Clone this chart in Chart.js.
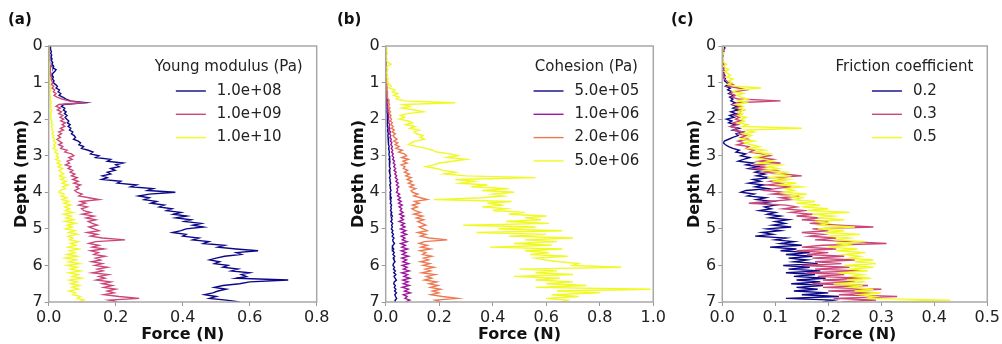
<!DOCTYPE html>
<html>
<head>
<meta charset="utf-8">
<script src="https://cdn.jsdelivr.net/npm/chart.js@4/dist/chart.umd.min.js"></script>
<style>
	body { margin: 0; background: #fff; width: 1002px; height: 344px; overflow: hidden; }
	.panel { position: absolute; top: 0; width: 334px; height: 344px; }
	.tag { position: absolute; top: 10px; font: bold 15px 'DejaVu Sans'; line-height: 18px; color: #111; }
</style>
</head>
<body>
<div class="panel" style="left:0px"><canvas id="chartA" width="334" height="344"></canvas></div>
<div class="panel" style="left:334px"><canvas id="chartB" width="334" height="344"></canvas></div>
<div class="panel" style="left:668px"><canvas id="chartC" width="334" height="344"></canvas></div>
<div class="tag" style="left:8px">(a)</div>
<div class="tag" style="left:337px">(b)</div>
<div class="tag" style="left:671px">(c)</div>
<script>
//	Depth (mm), shared by every curve
var depth = [
	0, 0.05, 0.1, 0.15, 0.2, 0.25, 0.3, 0.35, 0.4, 0.45,
	0.5, 0.55, 0.6, 0.65, 0.7, 0.75, 0.8, 0.85, 0.9, 0.95,
	1, 1.05, 1.1, 1.15, 1.2, 1.25, 1.3, 1.35, 1.4, 1.45,
	1.5, 1.55, 1.6, 1.65, 1.7, 1.75, 1.8, 1.85, 1.9, 1.95,
	2, 2.05, 2.1, 2.15, 2.2, 2.25, 2.3, 2.35, 2.4, 2.45,
	2.5, 2.55, 2.6, 2.65, 2.7, 2.75, 2.8, 2.85, 2.9, 2.95,
	3, 3.05, 3.1, 3.15, 3.2, 3.25, 3.3, 3.35, 3.4, 3.45,
	3.5, 3.55, 3.6, 3.65, 3.7, 3.75, 3.8, 3.85, 3.9, 3.95,
	4, 4.05, 4.1, 4.15, 4.2, 4.25, 4.3, 4.35, 4.4, 4.45,
	4.5, 4.55, 4.6, 4.65, 4.7, 4.75, 4.8, 4.85, 4.9, 4.95,
	5, 5.05, 5.1, 5.15, 5.2, 5.25, 5.3, 5.35, 5.4, 5.45,
	5.5, 5.55, 5.6, 5.65, 5.7, 5.75, 5.8, 5.85, 5.9, 5.95,
	6, 6.05, 6.1, 6.15, 6.2, 6.25, 6.3, 6.35, 6.4, 6.45,
	6.5, 6.55, 6.6, 6.65, 6.7, 6.75, 6.8, 6.85, 6.9, 6.95,
	7
];

//	(a) Young modulus
var youngLabels = ['1.0e+08', '1.0e+09', '1.0e+10'];
var young1e8 = [
	0.004, 0.006, 0.005, 0.008, 0.006, 0.009, 0.007, 0.010, 0.008, 0.012,
	0.010, 0.015, 0.013, 0.022, 0.018, 0.012, 0.010, 0.014, 0.011, 0.016,
	0.013, 0.020, 0.026, 0.022, 0.032, 0.028, 0.036, 0.031, 0.042, 0.052,
	0.065, 0.110, 0.045, 0.038, 0.048, 0.044, 0.052, 0.047, 0.055, 0.049,
	0.054, 0.060, 0.056, 0.064, 0.058, 0.066, 0.062, 0.072, 0.068, 0.076,
	0.080, 0.074, 0.088, 0.095, 0.090, 0.104, 0.098, 0.118, 0.132, 0.125,
	0.150, 0.140, 0.185, 0.175, 0.222, 0.200, 0.210, 0.185, 0.198, 0.175,
	0.185, 0.160, 0.175, 0.158, 0.215, 0.205, 0.262, 0.245, 0.312, 0.295,
	0.378, 0.300, 0.268, 0.300, 0.285, 0.322, 0.305, 0.345, 0.330, 0.368,
	0.352, 0.395, 0.372, 0.412, 0.380, 0.425, 0.405, 0.455, 0.430, 0.462,
	0.410, 0.395, 0.370, 0.410, 0.400, 0.448, 0.430, 0.478, 0.462, 0.525,
	0.505, 0.560, 0.625, 0.560, 0.575, 0.525, 0.500, 0.480, 0.510, 0.495,
	0.535, 0.520, 0.565, 0.545, 0.600, 0.575, 0.590, 0.560, 0.715, 0.600,
	0.570, 0.520, 0.495, 0.530, 0.505, 0.490, 0.465, 0.500, 0.480, 0.530,
	0.570
];
var young1e9 = [
	0.000, 0.002, 0.001, 0.003, 0.001, 0.002, 0.001, 0.003, 0.002, 0.004,
	0.003, 0.005, 0.004, 0.006, 0.004, 0.007, 0.005, 0.008, 0.006, 0.009,
	0.012, 0.008, 0.015, 0.010, 0.018, 0.014, 0.022, 0.016, 0.025, 0.040,
	0.060, 0.100, 0.030, 0.022, 0.035, 0.026, 0.038, 0.030, 0.042, 0.034,
	0.045, 0.036, 0.050, 0.040, 0.048, 0.035, 0.044, 0.030, 0.038, 0.028,
	0.035, 0.025, 0.032, 0.040, 0.030, 0.042, 0.036, 0.055, 0.048, 0.068,
	0.075, 0.060, 0.070, 0.055, 0.062, 0.050, 0.066, 0.058, 0.072, 0.064,
	0.078, 0.068, 0.085, 0.072, 0.088, 0.075, 0.095, 0.082, 0.090, 0.078,
	0.085, 0.100, 0.090, 0.120, 0.150, 0.095, 0.110, 0.090, 0.115, 0.098,
	0.105, 0.125, 0.100, 0.135, 0.112, 0.140, 0.118, 0.130, 0.145, 0.120,
	0.135, 0.150, 0.115, 0.145, 0.125, 0.160, 0.228, 0.140, 0.120, 0.150,
	0.130, 0.165, 0.125, 0.148, 0.135, 0.168, 0.140, 0.155, 0.128, 0.160,
	0.138, 0.175, 0.145, 0.162, 0.130, 0.178, 0.150, 0.168, 0.142, 0.185,
	0.160, 0.190, 0.165, 0.200, 0.175, 0.195, 0.165, 0.210, 0.270, 0.180,
	0.205
];
var young1e10 = [
	0.000, 0.000, 0.001, 0.000, 0.001, 0.000, 0.001, 0.001, 0.000, 0.002,
	0.001, 0.002, 0.001, 0.003, 0.002, 0.001, 0.003, 0.002, 0.004, 0.002,
	0.004, 0.002, 0.005, 0.003, 0.006, 0.004, 0.003, 0.005, 0.004, 0.006,
	0.005, 0.008, 0.004, 0.007, 0.005, 0.009, 0.006, 0.008, 0.005, 0.007,
	0.006, 0.010, 0.007, 0.012, 0.008, 0.011, 0.009, 0.014, 0.010, 0.016,
	0.012, 0.018, 0.014, 0.022, 0.015, 0.020, 0.013, 0.024, 0.018, 0.028,
	0.022, 0.030, 0.020, 0.034, 0.025, 0.038, 0.028, 0.042, 0.030, 0.036,
	0.045, 0.032, 0.048, 0.036, 0.052, 0.040, 0.058, 0.042, 0.050, 0.035,
	0.030, 0.046, 0.038, 0.055, 0.040, 0.060, 0.045, 0.066, 0.048, 0.062,
	0.050, 0.072, 0.045, 0.068, 0.052, 0.075, 0.048, 0.080, 0.055, 0.070,
	0.050, 0.078, 0.060, 0.085, 0.058, 0.072, 0.062, 0.088, 0.065, 0.080,
	0.058, 0.090, 0.062, 0.078, 0.055, 0.085, 0.050, 0.082, 0.060, 0.092,
	0.055, 0.085, 0.065, 0.095, 0.060, 0.088, 0.070, 0.098, 0.062, 0.085,
	0.066, 0.092, 0.070, 0.088, 0.060, 0.080, 0.072, 0.095, 0.085, 0.105,
	0.090
];

//	(b) Cohesion
var cohesionLabels = ['5.0e+05', '1.0e+06', '2.0e+06', '5.0e+06'];
var cohesion5e5 = [
	0.000, 0.000, 0.000, 0.001, 0.000, 0.000, 0.001, 0.000, 0.000, 0.001,
	0.000, 0.001, 0.000, 0.001, 0.000, 0.001, 0.000, 0.001, 0.001, 0.000,
	0.001, 0.002, 0.001, 0.002, 0.001, 0.003, 0.002, 0.003, 0.002, 0.004,
	0.003, 0.004, 0.003, 0.005, 0.004, 0.005, 0.004, 0.006, 0.005, 0.006,
	0.005, 0.007, 0.006, 0.008, 0.006, 0.009, 0.007, 0.008, 0.010, 0.008,
	0.009, 0.011, 0.009, 0.012, 0.010, 0.013, 0.011, 0.012, 0.014, 0.012,
	0.013, 0.015, 0.012, 0.016, 0.013, 0.015, 0.014, 0.017, 0.013, 0.016,
	0.015, 0.018, 0.014, 0.017, 0.016, 0.019, 0.015, 0.018, 0.017, 0.020,
	0.016, 0.019, 0.017, 0.021, 0.018, 0.020, 0.017, 0.022, 0.019, 0.021,
	0.018, 0.023, 0.020, 0.025, 0.021, 0.024, 0.019, 0.026, 0.022, 0.025,
	0.021, 0.027, 0.023, 0.029, 0.024, 0.031, 0.026, 0.028, 0.033, 0.027,
	0.025, 0.030, 0.026, 0.032, 0.027, 0.034, 0.028, 0.031, 0.035, 0.029,
	0.027, 0.033, 0.029, 0.036, 0.030, 0.038, 0.031, 0.035, 0.040, 0.032,
	0.030, 0.036, 0.032, 0.038, 0.033, 0.040, 0.034, 0.037, 0.041, 0.035,
	0.036
];
var cohesion1e6 = [
	0.000, 0.000, 0.001, 0.000, 0.000, 0.001, 0.000, 0.000, 0.001, 0.000,
	0.001, 0.000, 0.001, 0.001, 0.000, 0.001, 0.002, 0.001, 0.002, 0.001,
	0.002, 0.003, 0.002, 0.004, 0.003, 0.005, 0.003, 0.006, 0.004, 0.006,
	0.005, 0.007, 0.006, 0.009, 0.007, 0.010, 0.008, 0.011, 0.009, 0.012,
	0.010, 0.013, 0.011, 0.015, 0.012, 0.016, 0.013, 0.018, 0.014, 0.019,
	0.016, 0.021, 0.018, 0.023, 0.019, 0.025, 0.021, 0.026, 0.022, 0.028,
	0.024, 0.030, 0.026, 0.033, 0.028, 0.035, 0.030, 0.037, 0.031, 0.039,
	0.034, 0.041, 0.036, 0.044, 0.038, 0.047, 0.040, 0.049, 0.042, 0.045,
	0.040, 0.052, 0.044, 0.055, 0.046, 0.058, 0.048, 0.062, 0.050, 0.060,
	0.054, 0.065, 0.052, 0.068, 0.056, 0.066, 0.050, 0.070, 0.058, 0.072,
	0.055, 0.075, 0.060, 0.078, 0.058, 0.072, 0.062, 0.080, 0.056, 0.074,
	0.060, 0.082, 0.058, 0.076, 0.062, 0.085, 0.060, 0.078, 0.064, 0.086,
	0.062, 0.080, 0.066, 0.088, 0.060, 0.082, 0.068, 0.090, 0.064, 0.084,
	0.066, 0.088, 0.062, 0.085, 0.070, 0.092, 0.066, 0.080, 0.072, 0.090,
	0.075
];
var cohesion2e6 = [
	0.000, 0.000, 0.000, 0.001, 0.000, 0.001, 0.000, 0.001, 0.001, 0.000,
	0.001, 0.002, 0.001, 0.002, 0.001, 0.003, 0.002, 0.003, 0.002, 0.004,
	0.003, 0.005, 0.004, 0.006, 0.004, 0.007, 0.005, 0.008, 0.006, 0.009,
	0.012, 0.008, 0.014, 0.010, 0.016, 0.012, 0.018, 0.013, 0.020, 0.015,
	0.022, 0.017, 0.025, 0.019, 0.028, 0.022, 0.032, 0.024, 0.036, 0.027,
	0.033, 0.042, 0.030, 0.045, 0.035, 0.050, 0.038, 0.062, 0.048, 0.070,
	0.078, 0.060, 0.085, 0.065, 0.080, 0.058, 0.072, 0.066, 0.082, 0.070,
	0.088, 0.075, 0.095, 0.080, 0.098, 0.085, 0.105, 0.090, 0.112, 0.095,
	0.100, 0.120, 0.105, 0.130, 0.155, 0.108, 0.125, 0.100, 0.118, 0.098,
	0.110, 0.130, 0.105, 0.138, 0.115, 0.142, 0.120, 0.135, 0.150, 0.125,
	0.140, 0.155, 0.120, 0.150, 0.130, 0.162, 0.230, 0.145, 0.125, 0.155,
	0.132, 0.168, 0.128, 0.150, 0.138, 0.172, 0.142, 0.160, 0.130, 0.165,
	0.140, 0.180, 0.148, 0.168, 0.135, 0.185, 0.152, 0.172, 0.145, 0.190,
	0.162, 0.195, 0.168, 0.205, 0.175, 0.198, 0.168, 0.212, 0.268, 0.185,
	0.205
];
var cohesion5e6 = [
	0.005, 0.002, 0.004, 0.001, 0.006, 0.003, 0.002, 0.005, 0.003, 0.008,
	0.020, 0.006, 0.004, 0.008, 0.005, 0.003, 0.007, 0.004, 0.009, 0.006,
	0.008, 0.014, 0.020, 0.012, 0.035, 0.025, 0.045, 0.030, 0.050, 0.040,
	0.070, 0.260, 0.065, 0.090, 0.060, 0.110, 0.140, 0.080, 0.055, 0.070,
	0.050, 0.085, 0.100, 0.075, 0.110, 0.090, 0.125, 0.105, 0.115, 0.140,
	0.130, 0.145, 0.110, 0.095, 0.085, 0.120, 0.150, 0.175, 0.190, 0.240,
	0.270, 0.230, 0.300, 0.250, 0.200, 0.180, 0.150, 0.190, 0.215, 0.260,
	0.220, 0.300, 0.560, 0.260, 0.330, 0.280, 0.380, 0.320, 0.460, 0.360,
	0.480, 0.400, 0.440, 0.360, 0.180, 0.470, 0.380, 0.440, 0.360, 0.450,
	0.400, 0.520, 0.460, 0.600, 0.520, 0.580, 0.450, 0.610, 0.290, 0.560,
	0.420, 0.660, 0.340, 0.600, 0.460, 0.700, 0.520, 0.640, 0.480, 0.620,
	0.390, 0.660, 0.520, 0.610, 0.540, 0.680, 0.560, 0.600, 0.650, 0.720,
	0.700, 0.880, 0.500, 0.640, 0.560, 0.700, 0.480, 0.650, 0.560, 0.700,
	0.600, 0.750, 0.560, 0.990, 0.640, 0.800, 0.620, 0.720, 0.600, 0.680,
	0.660
];

//	(c) Friction coefficient
var frictionLabels = ['0.2', '0.3', '0.5'];
var friction02 = [
	0.002, 0.005, 0.001, 0.003, 0.001, 0.002, 0.000, 0.001, 0.000, 0.002,
	0.001, 0.003, 0.001, 0.002, 0.004, 0.002, 0.005, 0.003, 0.006, 0.004,
	0.008, 0.012, 0.006, 0.015, 0.010, 0.018, 0.012, 0.022, 0.014, 0.020,
	0.016, 0.024, 0.018, 0.028, 0.020, 0.030, 0.016, 0.026, 0.014, 0.022,
	0.008, 0.018, 0.012, 0.024, 0.016, 0.032, 0.020, 0.038, 0.026, 0.030,
	0.020, 0.012, 0.004, 0.002, 0.006, 0.012, 0.020, 0.032, 0.026, 0.044,
	0.035, 0.052, 0.040, 0.030, 0.058, 0.045, 0.068, 0.050, 0.075, 0.062,
	0.080, 0.065, 0.090, 0.058, 0.072, 0.050, 0.078, 0.062, 0.085, 0.045,
	0.035, 0.060, 0.048, 0.082, 0.065, 0.095, 0.072, 0.100, 0.080, 0.092,
	0.070, 0.100, 0.085, 0.110, 0.090, 0.125, 0.100, 0.118, 0.095, 0.130,
	0.085, 0.110, 0.075, 0.095, 0.062, 0.120, 0.100, 0.135, 0.110, 0.150,
	0.090, 0.140, 0.110, 0.165, 0.120, 0.170, 0.125, 0.160, 0.135, 0.180,
	0.115, 0.165, 0.125, 0.185, 0.120, 0.175, 0.135, 0.195, 0.140, 0.185,
	0.130, 0.190, 0.140, 0.180, 0.135, 0.200, 0.150, 0.220, 0.120, 0.210,
	0.190
];
var friction03 = [
	0.003, 0.000, 0.004, 0.001, 0.002, 0.000, 0.001, 0.000, 0.002, 0.001,
	0.003, 0.001, 0.004, 0.002, 0.006, 0.003, 0.002, 0.005, 0.003, 0.008,
	0.012, 0.020, 0.010, 0.030, 0.045, 0.022, 0.015, 0.025, 0.018, 0.030,
	0.110, 0.028, 0.020, 0.035, 0.025, 0.040, 0.030, 0.036, 0.022, 0.032,
	0.025, 0.035, 0.020, 0.030, 0.015, 0.028, 0.022, 0.040, 0.030, 0.045,
	0.035, 0.048, 0.030, 0.042, 0.028, 0.050, 0.045, 0.060, 0.052, 0.075,
	0.090, 0.068, 0.095, 0.070, 0.110, 0.065, 0.085, 0.060, 0.100, 0.078,
	0.115, 0.150, 0.095, 0.120, 0.090, 0.110, 0.085, 0.130, 0.100, 0.080,
	0.120, 0.095, 0.145, 0.110, 0.130, 0.085, 0.050, 0.120, 0.140, 0.115,
	0.155, 0.130, 0.170, 0.140, 0.185, 0.150, 0.200, 0.165, 0.220, 0.285,
	0.170, 0.200, 0.150, 0.190, 0.165, 0.215, 0.175, 0.240, 0.310, 0.190,
	0.150, 0.215, 0.140, 0.200, 0.160, 0.230, 0.170, 0.250, 0.175, 0.225,
	0.150, 0.240, 0.175, 0.260, 0.160, 0.230, 0.180, 0.265, 0.190, 0.250,
	0.170, 0.275, 0.190, 0.300, 0.200, 0.285, 0.220, 0.330, 0.210, 0.290,
	0.225
];
var friction05 = [
	0.000, 0.002, 0.001, 0.000, 0.003, 0.001, 0.000, 0.002, 0.001, 0.003,
	0.008, 0.002, 0.006, 0.012, 0.004, 0.010, 0.015, 0.008, 0.020, 0.012,
	0.018, 0.010, 0.025, 0.073, 0.030, 0.020, 0.040, 0.028, 0.035, 0.048,
	0.030, 0.045, 0.025, 0.040, 0.032, 0.042, 0.028, 0.038, 0.030, 0.045,
	0.035, 0.042, 0.030, 0.048, 0.038, 0.150, 0.045, 0.060, 0.040, 0.055,
	0.048, 0.035, 0.060, 0.042, 0.055, 0.070, 0.050, 0.080, 0.062, 0.090,
	0.075, 0.060, 0.080, 0.095, 0.070, 0.110, 0.085, 0.105, 0.080, 0.120,
	0.100, 0.130, 0.085, 0.125, 0.095, 0.140, 0.110, 0.150, 0.120, 0.135,
	0.115, 0.160, 0.125, 0.150, 0.135, 0.175, 0.140, 0.185, 0.150, 0.200,
	0.160, 0.240, 0.170, 0.210, 0.180, 0.230, 0.175, 0.200, 0.185, 0.250,
	0.180, 0.230, 0.195, 0.260, 0.200, 0.240, 0.210, 0.270, 0.215, 0.245,
	0.200, 0.255, 0.215, 0.270, 0.230, 0.260, 0.240, 0.285, 0.250, 0.290,
	0.230, 0.285, 0.240, 0.275, 0.220, 0.265, 0.245, 0.280, 0.235, 0.270,
	0.210, 0.265, 0.240, 0.285, 0.250, 0.300, 0.260, 0.290, 0.270, 0.430,
	0.300
];

//	plasma colour map samples
var plasma3 = ['#0d0887', '#cc4778', '#f0f921'];
var plasma4 = ['#0d0887', '#9c179e', '#ed7953', '#f0f921'];

Chart.defaults.font.family = "'DejaVu Sans', sans-serif";
Chart.defaults.color = '#222';

/**
 *	Grey box round the plot area, like the matplotlib spines
 */
var framePlugin = {
	id: 'frame',
	afterDatasetsDraw: function (chart) {
		var a = chart.chartArea;
		var ctx = chart.ctx;
		ctx.save();
		ctx.strokeStyle = '#a8a8a8';
		ctx.lineWidth = 1.5;
		ctx.strokeRect(a.left, a.top, a.right - a.left, a.bottom - a.top);
		ctx.restore();
	}
};

/**
 *	Legend with a title, drawn inside the plot (matplotlib style, no frame)
 */
var legendPlugin = {
	id: 'insideLegend',
	afterDraw: function (chart, args, opts) {
		var ctx = chart.ctx;
		var a = chart.chartArea;
		var sets = chart.data.datasets;
		ctx.save();
		ctx.font = '15px "DejaVu Sans"';
		ctx.textBaseline = 'middle';
		ctx.fillStyle = '#222';
		var titleW = ctx.measureText(opts.title).width;
		var textW = 0;
		for (let i = 0; i < sets.length; i++) {
			textW = Math.max(textW, ctx.measureText(sets[i].label).width);
		}
		var handle = 30, gap = 11;
		var blockW = handle + gap + textW;
		var W = Math.max(titleW, blockW);
		var right = a.right - 14;
		var centre = right - W / 2;
		ctx.textAlign = 'center';
		ctx.fillText(opts.title, centre, a.top + 21);
		var left = centre - blockW / 2;
		ctx.textAlign = 'left';
		for (let i = 0; i < sets.length; i++) {
			var y = a.top + 45 + i * 23.3;
			ctx.strokeStyle = sets[i].borderColor;
			ctx.lineWidth = 1.4;
			ctx.beginPath();
			ctx.moveTo(left, y);
			ctx.lineTo(left + handle, y);
			ctx.stroke();
			ctx.fillText(sets[i].label, left + handle + gap, y);
		}
		ctx.restore();
	}
};

/**
 *	Build one force / depth panel
 */
function drawPanel(canvasId, series, names, colours, xMax, xStep, legendTitle, plotLeft, plotRight, titlePad) {
	var datasets = [];
	for (let i = 0; i < series.length; i++) {
		var points = [];
		for (let j = 0; j < depth.length; j++) {
			points.push({ x: series[i][j], y: depth[j] });
		}
		datasets.push({
			label: names[i],
			data: points,
			borderColor: colours[i],
			backgroundColor: colours[i],
			borderWidth: 1.4,
			pointRadius: 0,
			showLine: true,
			tension: 0,
			order: series.length - i
		});
	}
	var ctx = document.getElementById(canvasId);
	return new Chart(ctx, {
		type: 'scatter',
		data: { datasets: datasets },
		plugins: [framePlugin, legendPlugin],
		options: {
			responsive: false,
			animation: false,
			devicePixelRatio: 1,
			layout: { padding: { top: 46, right: 334 - plotRight, bottom: 0, left: 0 } },
			plugins: {
				legend: { display: false },
				tooltip: { enabled: false },
				insideLegend: { title: legendTitle }
			},
			scales: {
				x: {
					type: 'linear',
					min: 0,
					max: xMax,
					ticks: {
						stepSize: xStep,
						padding: 2,
						font: { size: 16 },
						color: '#222',
						callback: function (v) { return v.toFixed(1); }
					},
					grid: { drawOnChartArea: false, tickLength: 4, tickColor: '#999', lineWidth: 1 },
					border: { display: false },
					title: { display: true, text: 'Force (N)', font: { size: 16, weight: 'bold' }, color: '#111', padding: { top: 0, bottom: 0 } },
					afterFit: function (scale) { scale.height = 42; }
				},
				y: {
					type: 'linear',
					reverse: true,
					min: 0,
					max: 7,
					ticks: {
						stepSize: 1,
						padding: 2,
						font: { size: 16 },
						color: '#222'
					},
					grid: { drawOnChartArea: false, tickLength: 4, tickColor: '#999', lineWidth: 1 },
					border: { display: false },
					title: { display: true, text: 'Depth (mm)', font: { size: 16, weight: 'bold' }, color: '#111', padding: { top: titlePad, bottom: 0 } },
					afterFit: function (scale) { scale.width = plotLeft; }
				}
			}
		}
	});
}

drawPanel('chartA', [young1e8, young1e9, young1e10], youngLabels, plasma3, 0.8, 0.2, 'Young modulus (Pa)', 48.7, 316.7, 12);
drawPanel('chartB', [cohesion5e5, cohesion1e6, cohesion2e6, cohesion5e6], cohesionLabels, plasma4, 1.0, 0.2, 'Cohesion (Pa)', 51.7, 320, 15);
drawPanel('chartC', [friction02, friction03, friction05], frictionLabels, plasma3, 0.5, 0.1, 'Friction coefficient', 54.3, 321.7, 17.7);
</script>
</body>
</html>
